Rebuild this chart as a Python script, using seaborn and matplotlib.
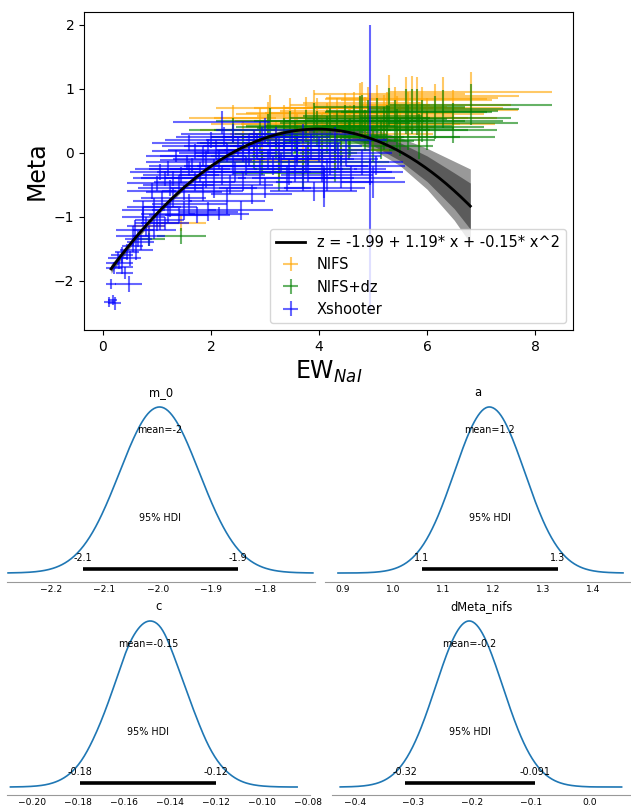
import numpy as np
import pandas as pd
import matplotlib
matplotlib.use("Agg")
import matplotlib.pyplot as plt
import seaborn as sns

# ---------------- top panel data ----------------
FIT_COEF = [-1.99, 1.19, -0.15]
FIT_LABEL = "z = -1.99 + 1.19* x + -0.15* x^2"
FIT_RANGE = [0.15, 6.8]
BAND_X = [0.15, 0.5, 1.0, 1.5, 2.0, 2.5, 3.0, 3.5, 4.0, 4.5, 5.0, 5.5, 6.0, 6.5, 6.8]
BAND_OUTER = [0.07, 0.05, 0.035, 0.03, 0.03, 0.035, 0.045, 0.06, 0.08, 0.11, 0.16, 0.22, 0.32, 0.46, 0.58]
BAND_INNER = [0.04, 0.03, 0.02, 0.018, 0.018, 0.02, 0.027, 0.036, 0.05, 0.068, 0.10, 0.14, 0.20, 0.28, 0.36]

NIFS_X = [0.85, 1.45, 2.60, 2.90, 3.05, 3.20, 3.35, 3.46, 3.60, 3.75,
          3.96, 4.05, 4.20, 4.33, 4.48, 4.57, 4.65, 4.76, 4.80, 4.91,
          5.07, 5.15, 5.26, 5.41, 5.50, 5.61, 5.72, 5.81, 5.91, 6.00,
          6.48, 6.81, 6.30, 3.80, 4.40, 5.00, 2.80, 3.10, 5.30, 2.40,
          3.25, 3.70, 2.95, 4.30,
          4.15, 4.55, 4.85, 5.20, 5.45, 5.65, 5.85, 3.55, 3.90, 6.15]
NIFS_Y = [-1.15, -1.10, 0.35, 0.45, 0.55, 0.30, 0.50, 0.60, 0.40, 0.62,
          0.58, 0.35, 0.62, 0.55, 0.66, 0.45, 0.70, 0.75, 0.78, 0.70,
          0.72, 0.40, 0.62, 0.70, 0.45, 0.84, 0.85, 0.83, 0.70, 0.55,
          0.67, 0.95, 0.88, 0.20, 0.25, 0.30, 0.15, 0.70, 0.92, 0.55,
          -0.12, -0.05, 0.05, 0.05,
          0.48, 0.38, 0.55, 0.58, 0.55, 0.60, 0.45, 0.45, 0.70, 0.75]
NIFS_XERR = [0.30, 0.45, 0.80, 0.90, 1.00, 0.85, 0.90, 1.00, 0.95, 1.10,
             1.10, 0.90, 1.20, 1.00, 1.20, 1.00, 1.30, 1.30, 1.10, 1.20,
             1.30, 1.00, 1.20, 1.30, 1.10, 1.50, 1.60, 1.40, 1.50, 1.30,
             1.20, 1.50, 1.40, 0.90, 1.00, 1.10, 0.80, 1.00, 1.40, 0.80,
             0.85, 0.90, 0.80, 1.00,
             1.10, 1.20, 1.20, 1.30, 1.30, 1.40, 1.40, 1.00, 1.10, 1.40]
NIFS_YERR = [0.10, 0.12, 0.15, 0.25, 0.25, 0.20, 0.25, 0.26, 0.20, 0.25,
             0.28, 0.25, 0.28, 0.31, 0.28, 0.30, 0.25, 0.34, 0.33, 0.33,
             0.34, 0.30, 0.33, 0.33, 0.30, 0.35, 0.35, 0.36, 0.33, 0.30,
             0.31, 0.32, 0.30, 0.20, 0.25, 0.25, 0.20, 0.20, 0.30, 0.20,
             0.28, 0.30, 0.20, 0.30,
             0.30, 0.30, 0.32, 0.33, 0.33, 0.35, 0.35, 0.25, 0.28, 0.33]
NIFSDZ_Y = [-1.35, -1.30, 0.15, 0.25, 0.35, 0.10, 0.30, 0.40, 0.20, 0.42,
            0.38, 0.15, 0.42, 0.35, 0.46, 0.25, 0.50, 0.55, 0.58, 0.50,
            0.52, 0.20, 0.42, 0.50, 0.25, 0.64, 0.65, 0.63, 0.50, 0.35,
            0.47, 0.75, 0.68, 0.00, 0.05, 0.10, -0.05, 0.50, 0.72, 0.35,
            -0.32, -0.25, -0.15, -0.15,
            0.28, 0.18, 0.35, 0.38, 0.35, 0.40, 0.25, 0.25, 0.50, 0.55]

XS_X = [0.12, 0.22, 0.18, 0.15, 0.48, 0.20, 0.35, 0.28, 0.45, 0.55,
        0.62, 0.30, 0.40, 0.70, 0.85, 0.95, 1.05, 1.20, 1.40, 1.75,
        1.95, 0.95, 1.10, 1.30, 1.60, 1.50, 1.25, 1.00, 1.70, 2.05,
        2.30, 1.45, 1.80, 1.20, 2.20, 1.55, 1.90, 1.35, 2.40, 1.70,
        2.10, 1.60, 2.50, 2.00, 2.80, 3.00, 2.20, 2.70, 3.10, 2.90,
        3.30, 3.50, 3.70, 3.20, 2.60, 3.00, 3.40, 3.80, 4.00, 4.20,
        3.60, 4.40, 4.60, 4.10, 3.90, 4.94, 5.00, 4.95, 4.80, 4.30,
        4.10, 4.50, 2.40, 3.70, 1.85, 2.75, 0.75, 1.15, 0.60, 2.55,
        2.15, 5.05, 1.05, 0.90,
        1.15, 1.40, 1.65, 1.90, 2.15, 2.35, 2.60, 2.85, 3.15, 3.45,
        3.75, 4.05, 4.35, 2.45, 2.95, 3.25, 3.55, 3.85, 4.15, 2.05,
        0.50, 0.65, 0.80, 1.00, 1.25, 0.35, 0.55, 0.75, 1.50, 1.30,
        1.95, 2.25, 2.65, 3.05, 3.35, 1.60, 1.85, 2.30, 2.70, 3.60]
XS_Y = [-2.33, -2.35, -2.30, -2.05, -2.05, -1.80, -1.78, -1.65, -1.55, -1.45,
        -1.52, -1.72, -1.88, -1.40, -1.30, -1.20, -1.05, -0.95, -0.98, -0.97,
        -0.92, -0.85, -0.75, -0.70, -0.80, -0.62, -0.55, -0.48, -0.45, -0.55,
        -0.75, -0.35, -0.30, -0.25, -0.35, -0.15, -0.12, -0.05, -0.20, 0.02,
        0.05, 0.15, 0.10, 0.20, 0.20, 0.35, 0.48, -0.05, 0.05, -0.30,
        -0.15, 0.15, 0.30, 0.25, -0.45, -0.55, -0.40, -0.25, 0.05, -0.10,
        -0.05, -0.30, -0.40, -0.45, -0.60, -0.25, -0.45, -0.30, -0.15, 0.20,
        -0.55, 0.00, 0.30, -0.40, -0.60, -0.65, -1.00, -1.10, -1.20, -0.90,
        -0.95, -0.20, -0.30, -0.60,
        -0.40, -0.50, -0.20, -0.40, -0.10, -0.50, 0.00, 0.10, -0.20, -0.30,
        -0.10, -0.20, -0.05, -0.30, 0.25, 0.05, -0.25, 0.10, -0.35, -0.25,
        -1.65, -1.35, -1.15, -1.10, -0.85, -1.60, -1.30, -0.90, -0.90, -0.40,
        0.10, 0.25, -0.20, -0.10, 0.10, -0.25, -0.05, 0.00, 0.15, 0.05]
XS_XERR = [0.10, 0.12, 0.08, 0.10, 0.25, 0.15, 0.20, 0.18, 0.22, 0.20,
           0.30, 0.25, 0.15, 0.25, 0.30, 0.40, 0.45, 0.50, 0.55, 0.60,
           0.55, 0.50, 0.55, 0.60, 0.70, 0.70, 0.60, 0.55, 0.75, 0.80,
           0.70, 0.70, 0.80, 0.60, 0.80, 0.75, 0.85, 0.55, 0.90, 0.80,
           0.90, 0.70, 1.00, 0.85, 0.90, 0.90, 0.90, 0.95, 1.00, 0.95,
           1.00, 0.90, 1.00, 1.00, 0.90, 0.85, 0.90, 0.90, 0.95, 0.90,
           0.85, 0.95, 0.80, 0.90, 0.80, 0.30, 0.60, 0.60, 0.75, 0.95,
           0.75, 0.85, 0.95, 0.95, 0.75, 0.75, 0.40, 0.45, 0.35, 0.60,
           0.55, 0.55, 0.55, 0.45,
           0.60, 0.65, 0.80, 0.75, 0.85, 0.80, 0.90, 1.00, 0.95, 0.90,
           0.90, 0.85, 0.80, 0.85, 0.95, 1.00, 0.90, 0.95, 0.85, 0.80,
           0.20, 0.25, 0.35, 0.40, 0.50, 0.20, 0.30, 0.40, 0.60, 0.60,
           0.85, 0.90, 0.90, 0.95, 0.95, 0.75, 0.80, 0.90, 0.95, 0.90]
XS_YERR = [0.08, 0.10, 0.08, 0.08, 0.12, 0.10, 0.12, 0.10, 0.12, 0.10,
           0.15, 0.10, 0.10, 0.12, 0.15, 0.15, 0.15, 0.15, 0.12, 0.12,
           0.15, 0.15, 0.15, 0.15, 0.15, 0.12, 0.12, 0.12, 0.15, 0.15,
           0.20, 0.12, 0.15, 0.12, 0.15, 0.12, 0.15, 0.10, 0.15, 0.12,
           0.15, 0.12, 0.15, 0.12, 0.15, 0.20, 0.18, 0.15, 0.15, 0.20,
           0.15, 0.20, 0.15, 0.15, 0.15, 0.15, 0.20, 0.20, 0.20, 0.25,
           0.15, 0.25, 0.20, 0.25, 0.15, 2.25, 0.25, 0.20, 0.20, 0.20,
           0.30, 0.20, 0.15, 0.20, 0.15, 0.15, 0.15, 0.10, 0.15, 0.15,
           0.10, 0.15, 0.12, 0.12,
           0.12, 0.15, 0.12, 0.15, 0.15, 0.15, 0.15, 0.20, 0.15, 0.20,
           0.20, 0.25, 0.20, 0.15, 0.15, 0.20, 0.20, 0.20, 0.25, 0.15,
           0.12, 0.12, 0.15, 0.12, 0.15, 0.12, 0.15, 0.15, 0.15, 0.12,
           0.12, 0.15, 0.15, 0.15, 0.20, 0.12, 0.15, 0.15, 0.15, 0.20]

X_TICKS = [0, 2, 4, 6, 8]
Y_TICKS = [-2, -1, 0, 1, 2]

# ---------------- posterior panels data ----------------
KDE_H = [0.0003, 0.0009, 0.0022, 0.0051, 0.0111, 0.0228, 0.0439, 0.0796, 0.1353,
         0.2163, 0.3247, 0.4578, 0.6065, 0.7548, 0.8825, 0.9692, 1.0,
         0.9692, 0.8825, 0.7548, 0.6065, 0.4578, 0.3247, 0.2163, 0.1353,
         0.0796, 0.0439, 0.0228, 0.0111, 0.0051, 0.0022, 0.0009, 0.0003]
M0_X = [-2.280, -2.2708, -2.2525, -2.2343, -2.216, -2.1978, -2.1795, -2.1613, -2.143,
        -2.1248, -2.1065, -2.0883, -2.070, -2.0518, -2.0335, -2.0153, -1.997,
        -1.9788, -1.9605, -1.9423, -1.924, -1.9058, -1.8875, -1.8693, -1.851,
        -1.8328, -1.8145, -1.7963, -1.778, -1.7598, -1.7415, -1.7233, -1.710]
A_X = [0.89, 0.9343, 0.9515, 0.9688, 0.986, 1.0033, 1.0205, 1.0378, 1.055,
       1.0723, 1.0895, 1.1068, 1.124, 1.1413, 1.1585, 1.1758, 1.193,
       1.2103, 1.2275, 1.2448, 1.262, 1.2793, 1.2965, 1.3138, 1.331,
       1.3483, 1.3655, 1.3828, 1.40, 1.4173, 1.4345, 1.4518, 1.46]
C_X = [-0.2094, -0.2056, -0.2019, -0.1981, -0.1943, -0.1905, -0.1868, -0.1830, -0.1792,
       -0.1754, -0.1717, -0.1679, -0.1641, -0.1603, -0.1566, -0.1528, -0.149,
       -0.1452, -0.1415, -0.1377, -0.1339, -0.1301, -0.1264, -0.1226, -0.1188,
       -0.1150, -0.1113, -0.1075, -0.1037, -0.0999, -0.0962, -0.0924, -0.0848]
DM_X = [-0.425, -0.415, -0.401, -0.387, -0.373, -0.359, -0.345, -0.331, -0.317,
        -0.303, -0.289, -0.275, -0.261, -0.247, -0.233, -0.219, -0.205,
        -0.191, -0.177, -0.163, -0.149, -0.135, -0.121, -0.107, -0.093,
        -0.079, -0.065, -0.051, -0.037, -0.023, -0.009, 0.020, 0.055]

PANEL_TITLES = ["m_0", "a", "c", "dMeta_nifs"]
PANEL_MEANS = [-1.997, 1.193, -0.1495, -0.205]
PANEL_MEAN_TXT = ["mean=-2", "mean=1.2", "mean=-0.15", "mean=-0.2"]
PANEL_HDI = [[-2.14, -1.85], [1.058, 1.33], [-0.179, -0.12], [-0.315, -0.092]]
PANEL_HDI_TXT = [["-2.1", "-1.9"], ["1.1", "1.3"], ["-0.18", "-0.12"], ["-0.32", "-0.091"]]
PANEL_XLIM = [[-2.282, -1.706], [0.864, 1.476], [-0.2109, -0.0792], [-0.439, 0.071]]
PANEL_TICKS = [[-2.2, -2.1, -2.0, -1.9, -1.8],
               [0.9, 1.0, 1.1, 1.2, 1.3, 1.4],
               [-0.20, -0.18, -0.16, -0.14, -0.12, -0.10, -0.08],
               [-0.4, -0.3, -0.2, -0.1, 0.0]]

# ---------------- figure ----------------
W, H = 631, 809
fig = plt.figure(figsize=(W / 100, H / 100), dpi=100)


def px_axes(l, t, r, b):
    return fig.add_axes([l / W, 1 - b / H, (r - l) / W, (b - t) / H])


ax = px_axes(84, 12, 573, 330)


def fit(x):
    x = np.asarray(x, dtype=float)
    return FIT_COEF[0] + FIT_COEF[1] * x + FIT_COEF[2] * x ** 2


bx = np.array(BAND_X)
ax.fill_between(bx, fit(bx) - np.array(BAND_OUTER), fit(bx) + np.array(BAND_OUTER),
                color="k", alpha=0.4, lw=0, zorder=1)
ax.fill_between(bx, fit(bx) - np.array(BAND_INNER), fit(bx) + np.array(BAND_INNER),
                color="k", alpha=0.4, lw=0, zorder=1)

fit_x = np.linspace(FIT_RANGE[0], FIT_RANGE[1], 150)
sns.lineplot(x=fit_x, y=fit(fit_x), color="k", linewidth=2, label=FIT_LABEL, ax=ax, zorder=4)

nifs = pd.DataFrame({"x": NIFS_X, "y": NIFS_Y, "xerr": NIFS_XERR, "yerr": NIFS_YERR})
nifsdz = pd.DataFrame({"x": NIFS_X, "y": NIFSDZ_Y, "xerr": NIFS_XERR, "yerr": NIFS_YERR})
xsh = pd.DataFrame({"x": XS_X, "y": XS_Y, "xerr": XS_XERR, "yerr": XS_YERR})

for df, col, lab in [(nifs, "orange", "NIFS"), (nifsdz, "green", "NIFS+dz"), (xsh, "blue", "Xshooter")]:
    ax.errorbar(df["x"], df["y"], xerr=df["xerr"], yerr=df["yerr"], fmt="none",
                ecolor=col, elinewidth=1.5, alpha=0.6, label=lab, zorder=2)

ax.set_xlim(-0.35, 8.7)
ax.set_ylim(-2.77, 2.2)
ax.set_xticks(X_TICKS)
ax.set_yticks(Y_TICKS)
ax.tick_params(labelsize=10)
ax.set_xlabel("EW$_{NaI}$", fontsize=17)
ax.set_ylabel("Meta", fontsize=17)
ax.legend(loc="lower right", fontsize=10.5)

# ---------------- posterior panels ----------------
rects = [(7, 400, 315, 582), (325, 400, 631, 582), (7, 614, 310, 795), (332, 614, 631, 795)]
xs_list = [M0_X, A_X, C_X, DM_X]
ylims = [(-0.054, 1.042), (-0.054, 1.042), (-0.048, 1.042), (-0.048, 1.042)]

for i in range(4):
    a = px_axes(*rects[i])
    sns.kdeplot(x=xs_list[i], weights=KDE_H, ax=a, color="#1f77b4", linewidth=1.2,
                bw_adjust=0.34, cut=0, gridsize=300)
    m = a.get_lines()[-1].get_ydata().max()
    hdi = PANEL_HDI[i]
    a.plot(hdi, [0.024 * m, 0.024 * m], color="k", lw=2.6, solid_capstyle="butt")
    a.text(PANEL_MEANS[i], 0.86 * m, PANEL_MEAN_TXT[i], ha="center", va="center", fontsize=6.9)
    a.text((hdi[0] + hdi[1]) / 2, 0.33 * m, "95% HDI", ha="center", va="center", fontsize=6.9)
    for xv, t in zip(hdi, PANEL_HDI_TXT[i]):
        a.text(xv, 0.09 * m, t, ha="center", va="center", fontsize=6.9)
    a.set_title(PANEL_TITLES[i], fontsize=8.3, pad=3)
    a.set_xlim(*PANEL_XLIM[i])
    a.set_ylim(ylims[i][0] * m, ylims[i][1] * m)
    a.set_xticks(PANEL_TICKS[i])
    a.set_yticks([])
    a.set_xlabel("")
    a.set_ylabel("")
    for s in ["left", "top", "right"]:
        a.spines[s].set_visible(False)
    a.spines["bottom"].set_color("0.6")
    a.spines["bottom"].set_linewidth(0.8)
    a.tick_params(axis="x", length=0, labelsize=6.6, pad=2.5)
    a.patch.set_alpha(0)

fig.savefig("out.png", dpi=100)
